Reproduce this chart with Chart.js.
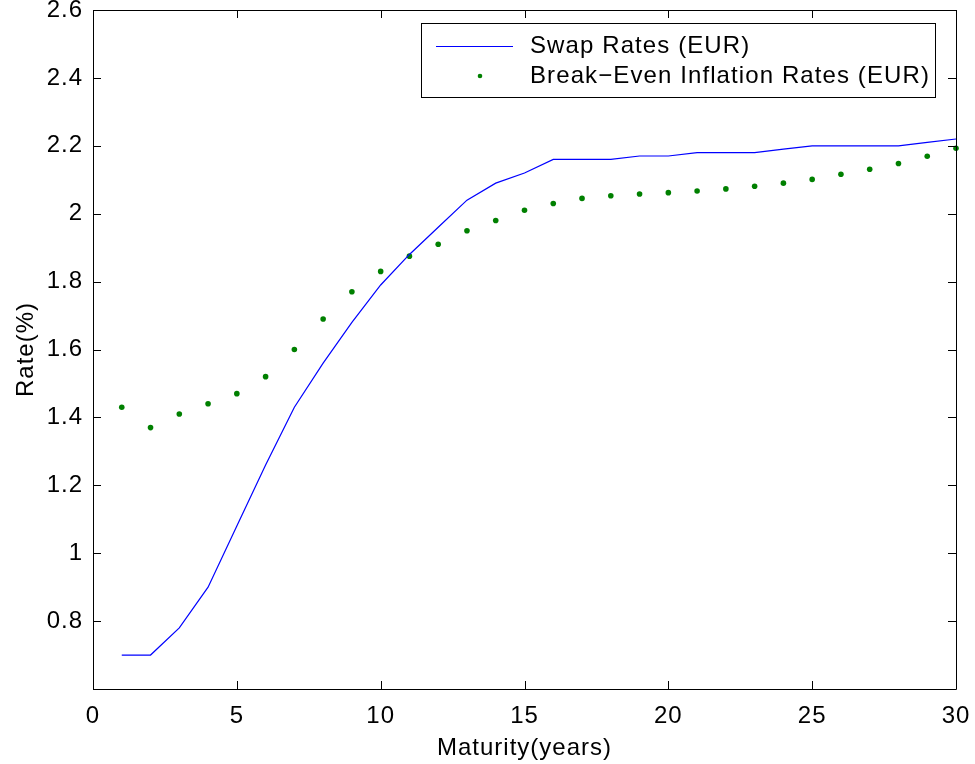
<!DOCTYPE html>
<html>
<head>
<meta charset="utf-8">
<script src="https://cdn.jsdelivr.net/npm/chart.js@4/dist/chart.umd.min.js"></script>
<style>
html,body{margin:0;padding:0;background:#fff;}
#wrap{width:975px;height:764px;}
</style>
</head>
<body>
<div id="wrap"><canvas id="c" width="975" height="764"></canvas></div>
<script>
const maturities = [1,2,3,4,5,6,7,8,9,10,11,12,13,14,15,16,17,18,19,20,21,22,23,24,25,26,27,28,29,30];
const swapRates = [0.70,0.70,0.78,0.90,1.08,1.26,1.43,1.56,1.68,1.79,1.88,1.96,2.04,2.09,2.12,2.16,2.16,2.16,2.17,2.17,2.18,2.18,2.18,2.19,2.20,2.20,2.20,2.20,2.21,2.22];
const breakEvenRates = [1.43,1.37,1.41,1.44,1.47,1.52,1.60,1.69,1.77,1.83,1.875,1.91,1.95,1.98,2.01,2.03,2.045,2.053,2.058,2.062,2.067,2.073,2.081,2.09,2.101,2.116,2.131,2.148,2.169,2.193];
const xTicks = [0,5,10,15,20,25,30];
const yTicks = [0.6,0.8,1.0,1.2,1.4,1.6,1.8,2.0,2.2,2.4,2.6];
const seriesLabels = ["Swap Rates (EUR)", "Break\u2212Even Inflation Rates (EUR)"];
const xTitle = "Maturity(years)";
const yTitle = "Rate(%)";

const FONT = "'Liberation Sans', Arial, Helvetica, sans-serif";
const LS = '1px';

const framePlugin = {
  id: 'frame',
  beforeInit(chart) { chart.ctx.letterSpacing = LS; },
  beforeUpdate(chart) { chart.ctx.letterSpacing = LS; },
  beforeLayout(chart) { chart.ctx.letterSpacing = LS; },
  beforeDraw(chart) { chart.ctx.letterSpacing = LS; },
  afterDraw(chart) {
    const ctx = chart.ctx;
    const a = chart.chartArea;
    const xs = chart.scales.x, ys = chart.scales.y;
    ctx.save();
    ctx.strokeStyle = '#000';
    ctx.lineWidth = 1;
    ctx.beginPath();
    ctx.rect(Math.round(a.left)+0.5, Math.round(a.top)+0.5, Math.round(a.right-a.left), Math.round(a.bottom-a.top));
    ctx.stroke();
    const L = 8;
    ctx.beginPath();
    xTicks.forEach(v => {
      const p = Math.round(xs.getPixelForValue(v)) + 0.5;
      ctx.moveTo(p, a.bottom); ctx.lineTo(p, a.bottom - L);
      ctx.moveTo(p, a.top); ctx.lineTo(p, a.top + L);
    });
    yTicks.forEach(v => {
      const p = Math.round(ys.getPixelForValue(v)) + 0.5;
      ctx.moveTo(a.left, p); ctx.lineTo(a.left + L, p);
      ctx.moveTo(a.right, p); ctx.lineTo(a.right - L, p);
    });
    ctx.stroke();

    // legend
    const bx = 421.5, by = 23.5, bw = 514, bh = 74;
    ctx.fillStyle = '#fff';
    ctx.fillRect(bx, by, bw, bh);
    ctx.strokeRect(bx, by, bw, bh);
    ctx.strokeStyle = '#0000ff';
    ctx.beginPath();
    ctx.moveTo(436, 46.5); ctx.lineTo(513, 46.5);
    ctx.stroke();
    ctx.fillStyle = '#008000';
    ctx.beginPath();
    ctx.arc(480, 76, 2.3, 0, Math.PI*2);
    ctx.fill();
    ctx.fillStyle = '#000';
    ctx.letterSpacing = '1.1px';
    ctx.font = "24px " + FONT;
    ctx.textBaseline = 'middle';
    ctx.textAlign = 'left';
    ctx.fillText(chart.data.datasets[0].label, 530, 46);
    ctx.fillText(chart.data.datasets[1].label, 530, 76);
    ctx.restore();
  }
};

new Chart(document.getElementById('c'), {
  type: 'scatter',
  data: {
    datasets: [
      {
        label: seriesLabels[0],
        data: maturities.map((m,i) => ({x:m, y:swapRates[i]})),
        showLine: true,
        borderColor: '#0000ff',
        borderWidth: 1.2,
        pointRadius: 0,
        fill: false,
        tension: 0
      },
      {
        label: seriesLabels[1],
        data: maturities.map((m,i) => ({x:m, y:breakEvenRates[i]})),
        showLine: false,
        pointRadius: 2.8,
        pointBackgroundColor: '#008000',
        pointBorderWidth: 0,
        borderColor: '#008000'
      }
    ]
  },
  plugins: [framePlugin],
  options: {
    responsive: false,
    animation: false,
    clip: false,
    layout: { padding: { top: 10, right: 19, left: 0, bottom: 0 } },
    plugins: { legend: { display: false }, tooltip: { enabled: false } },
    scales: {
      x: {
        type: 'linear',
        min: 0, max: 30,
        afterBuildTicks(s) { s.ticks = xTicks.map(v => ({value: v})); },
        afterFit(s) { s.height = 75; s.paddingLeft = 0; s.paddingRight = 0; },
        grid: { display: false },
        border: { display: false },
        ticks: { color: '#000', font: { family: FONT, size: 24 }, padding: 5, maxRotation: 0,
                 callback: v => String(v) },
        title: { display: true, text: xTitle, color: '#000', font: { family: FONT, size: 24 }, padding: { top: 0, bottom: 1 } }
      },
      y: {
        type: 'linear',
        min: 0.6, max: 2.6,
        afterBuildTicks(s) { s.ticks = yTicks.map(v => ({value: v})); },
        afterFit(s) { s.width = 93; s.paddingTop = 0; s.paddingBottom = 0; },
        grid: { display: false },
        border: { display: false },
        ticks: { color: '#000', font: { family: FONT, size: 24 }, padding: 2,
                 callback: v => (Math.abs(v - 0.6) < 1e-9 ? '' : String(Number(v.toFixed(1)))) },
        title: { display: true, text: yTitle, color: '#000', font: { family: FONT, size: 24 }, padding: { top: 12, bottom: 0 } }
      }
    }
  }
});
</script>
</body>
</html>
